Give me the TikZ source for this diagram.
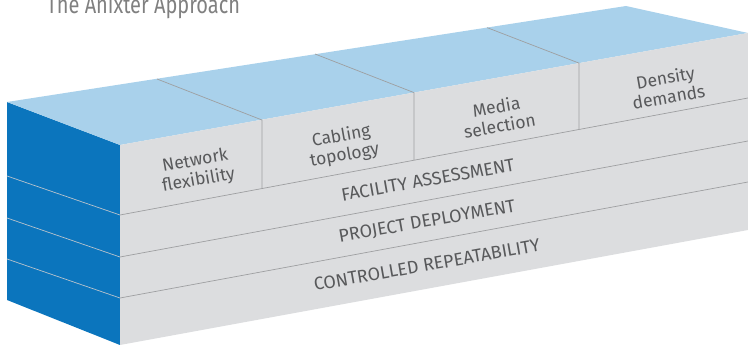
\documentclass[tikz,border=0pt]{standalone}
\usepackage{fontspec}
\setmainfont{Fira Sans}
\newfontfamily\titlefont{Fira Sans}[FakeStretch=0.8]
\definecolor{sideblue}{HTML}{0B75BD}
\definecolor{topblue}{HTML}{A9D1EB}
\definecolor{frontgray}{HTML}{DCDDDF}
\definecolor{edgegray}{HTML}{9E9FA1}
\definecolor{sideline}{HTML}{B9C3CC}
\definecolor{labelgray}{HTML}{58595B}
\definecolor{titlegray}{HTML}{808080}
\tikzset{
  face/.style={draw=none},
  edge/.style={draw=edgegray, line width=0.7pt},
  sidedge/.style={draw=sideline, line width=0.7pt},
  cell/.style={text=labelgray, align=center, rotate=10, inner sep=1pt,
    font=\fontsize{17.5}{19.5}\selectfont},
  layer/.style={text=labelgray, rotate=10, anchor=base,
    font=\fontsize{18}{20}\selectfont}
}
\begin{document}
\begin{tikzpicture}[x=1pt, y=-1pt]
  \useasboundingbox (0,0) rectangle (748,347);

  % corners of the block
  \coordinate (LT) at (7,102);
  \coordinate (LB) at (7,300);
  \coordinate (FT) at (120,145);
  \coordinate (FB) at (120,345);
  \coordinate (RT) at (748,33);
  \coordinate (RB) at (748,230);
  \coordinate (BK) at (626,6);

  % faces
  \fill[sideblue] (LT) -- (FT) -- (FB) -- (LB) -- cycle;
  \fill[topblue] (LT) -- (BK) -- (RT) -- (FT) -- cycle;
  \fill[frontgray] (FT) -- (RT) -- (RB) -- (FB) -- cycle;

  % layer lines
  \coordinate (L1) at (7,176);   \coordinate (F1) at (120,215); \coordinate (R1) at (748,98);
  \coordinate (L2) at (7,218);   \coordinate (F2) at (120,257); \coordinate (R2) at (748,141);
  \coordinate (L3) at (7,259);   \coordinate (F3) at (120,298); \coordinate (R3) at (748,182);
  \draw[sidedge] (L1) -- (F1);
  \draw[sidedge] (L2) -- (F2);
  \draw[sidedge] (L3) -- (F3);
  \draw[edge] (F1) -- (R1);
  \draw[edge] (F2) -- (R2);
  \draw[edge] (F3) -- (R3);

  % dividers of the top row
  \coordinate (B1) at (157,79);  \coordinate (T1) at (262,120); \coordinate (D1) at (262,188.5);
  \coordinate (B2) at (315,54);  \coordinate (T2) at (414,92.6); \coordinate (D2) at (414,160.2);
  \coordinate (B3) at (487,27.6); \coordinate (T3) at (579,63.1); \coordinate (D3) at (579,129.5);
  \draw[edge] (B1) -- (T1) -- (D1);
  \draw[edge] (B2) -- (T2) -- (D2);
  \draw[edge] (B3) -- (T3) -- (D3);

  % labels
  \node[cell] (NF) at (197,171) {Network\\flexibility};
  \node[cell] (CT) at (343,146) {Cabling\\topology};
  \node[cell] (MS) at (498,116) {Media\\selection};
  \node[cell] (DD) at (667,87) {Density\\demands};
  \node[layer] (FA) at (429,186) {FACILITY ASSESSMENT};
  \node[layer] (PD) at (428,227) {PROJECT DEPLOYMENT};
  \node[layer] (CR) at (428,271) {CONTROLLED REPEATABILITY};

  \node[anchor=base west, text=titlegray, font=\titlefont\fontsize{25}{28}\selectfont]
    (TI) at (43,14) {The Anixter Approach};
\end{tikzpicture}
\end{document}
